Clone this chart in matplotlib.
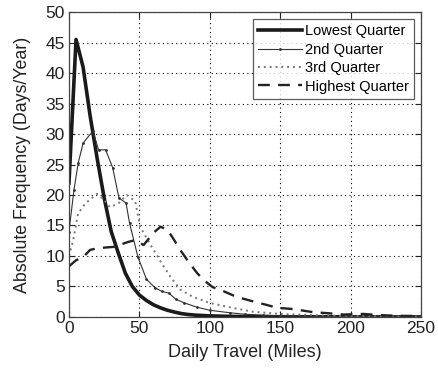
import matplotlib
matplotlib.use("Agg")
import matplotlib.pyplot as plt

plt.rcParams['font.family'] = ['Liberation Sans', 'DejaVu Sans']

# Data
x_low = [0, 5, 10, 15, 20, 25, 30, 35, 40, 45, 50, 55, 60, 65, 70, 75, 80, 85, 90, 100, 110, 120, 140, 160, 200, 250]
y_low = [22, 45.5, 41, 33, 26, 19.5, 14, 10.5, 7.2, 5.0, 3.6, 2.7, 2.0, 1.5, 1.1, 0.8, 0.55, 0.4, 0.3, 0.18, 0.12, 0.08, 0.05, 0.03, 0.02, 0.01]

x_2nd = [0, 3.5, 6.5, 10, 17, 21, 26, 31, 35.5, 40.5, 43, 49, 55, 61, 66, 71, 76, 82, 91, 100, 114, 125, 138, 150, 175, 200, 250]
y_2nd = [14, 20.8, 25.2, 28.5, 30.5, 27.4, 27.4, 24.5, 19.5, 18.7, 15.4, 9.8, 6.2, 4.8, 4.2, 3.9, 2.9, 2.3, 1.6, 1.1, 0.7, 0.45, 0.3, 0.2, 0.12, 0.08, 0.03]

x_3rd = [0, 3, 6.5, 12, 20, 25, 29, 35, 41, 47, 50.5, 57.5, 64.5, 72, 79, 88, 100, 116, 131, 150, 175, 200, 250]
y_3rd = [10, 12.6, 17, 18.7, 20.2, 19.2, 18, 18.6, 20, 19, 14.8, 12, 9.3, 6.6, 4.5, 3.3, 2.3, 1.5, 0.85, 0.5, 0.3, 0.15, 0.05]

x_high = [0, 5, 10, 15, 21, 32, 42, 47, 53, 60, 65, 70, 75, 79, 85, 91, 96, 102, 110, 119, 130, 140, 148, 159, 173, 185, 195, 209, 221, 233, 250]
y_high = [8.3, 9.3, 9.8, 11, 11.3, 11.5, 12.3, 12.6, 11.8, 13.8, 14.8, 14.3, 12.5, 11, 9, 7.2, 6, 4.9, 4.2, 3.3, 2.6, 2.0, 1.5, 1.3, 0.8, 0.6, 0.4, 0.5, 0.3, 0.2, 0.15]

labels = ['Lowest Quarter', '2nd Quarter', '3rd Quarter', 'Highest Quarter']
x_ticks = [0, 50, 100, 150, 200, 250]
y_ticks = [0, 5, 10, 15, 20, 25, 30, 35, 40, 45, 50]

fig = plt.figure(figsize=(4.38, 3.71), dpi=100)
ax = fig.add_axes([0.1575, 0.1456, 0.8037, 0.822])

ax.plot(x_low, y_low, color='#1a1a1a', lw=2.6, label=labels[0])
ax.plot(x_2nd, y_2nd, color='#333333', lw=0.8, marker='.', markersize=2, label=labels[1])
ax.plot(x_3rd, y_3rd, color='#777777', lw=1.4, linestyle=(0, (1, 2)), label=labels[2])
ax.plot(x_high, y_high, color='#222222', lw=1.7, linestyle=(0, (5, 3.5)), label=labels[3])

ax.set_xlim(0, 250)
ax.set_ylim(0, 50)
ax.set_xticks(x_ticks)
ax.set_yticks(y_ticks)
ax.grid(True, color='black', linestyle=(0, (1, 3)), linewidth=0.8)
ax.tick_params(direction='in', top=True, right=True, labelsize=12.5, colors='#222222', length=4, pad=3)
for s in ax.spines.values():
    s.set_color('#444444')
    s.set_linewidth(0.9)

ax.set_xlabel('Daily Travel (Miles)', fontsize=13, color='#222222', labelpad=6)
ax.set_ylabel('Absolute Frequency (Days/Year)', fontsize=12.8, color='#222222', labelpad=10)

leg = ax.legend(loc='upper right', fontsize=10.5, frameon=True, fancybox=False,
                edgecolor='#333333', handlelength=3.0, handletextpad=0.2,
                labelspacing=0.3, borderpad=0.35, borderaxespad=0.5)
leg.get_frame().set_linewidth(0.9)

fig.savefig('out.png', dpi=100)
